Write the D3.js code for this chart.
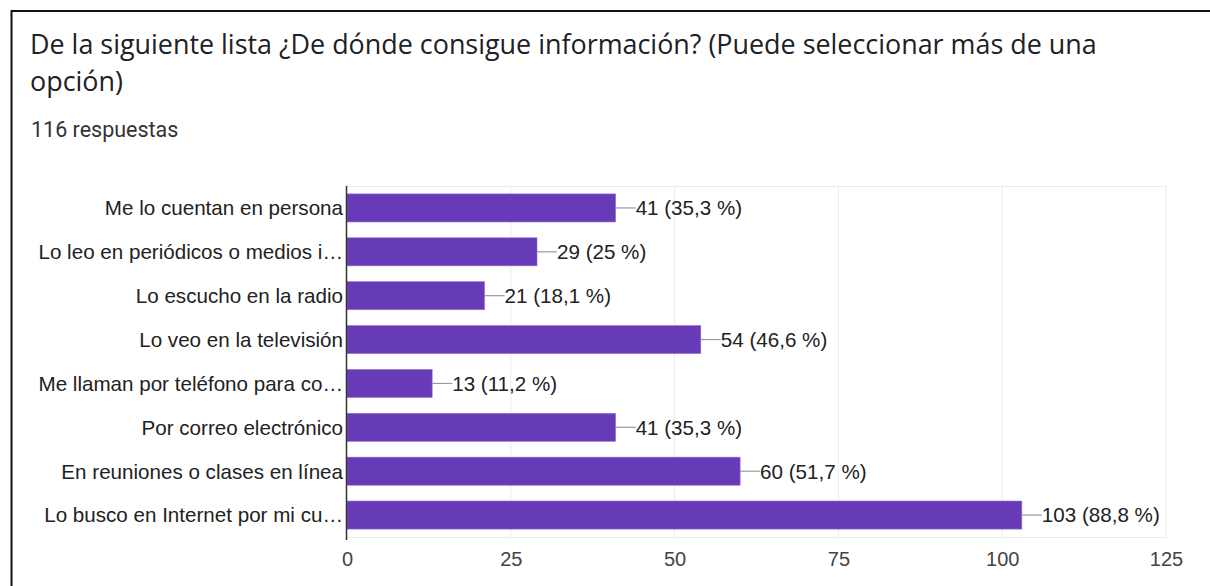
<!DOCTYPE html>
<html><head><meta charset="utf-8">
<script src="https://cdn.jsdelivr.net/npm/d3@7"></script>
<style>
html,body{margin:0;padding:0;background:#fff;}
svg{display:block;}
</style></head>
<body>
<svg id="chart" width="1210" height="586"></svg>
<script>
const categories = [
  "Me lo cuentan en persona",
  "Lo leo en periódicos o medios i…",
  "Lo escucho en la radio",
  "Lo veo en la televisión",
  "Me llaman por teléfono para co…",
  "Por correo electrónico",
  "En reuniones o clases en línea",
  "Lo busco en Internet por mi cu…"
];
const values = [41, 29, 21, 54, 13, 41, 60, 103];
const percents = ["35,3", "25", "18,1", "46,6", "11,2", "35,3", "51,7", "88,8"];
const xTicks = [0, 25, 50, 75, 100, 125];
const title1 = "De la siguiente lista ¿De dónde consigue información? (Puede seleccionar más de una";
const title2 = "opción)";
const subtitle = "116 respuestas";

const svg = d3.select("#chart");
// frame
svg.append("rect").attr("x", 11.5).attr("y", 11).attr("width", 1300).attr("height", 700)
  .attr("fill", "none").attr("stroke", "#111").attr("stroke-width", 2);

svg.append("text").attr("x", 30).attr("y", 54).attr("font-family", "Open Sans, sans-serif")
  .attr("font-size", 26.9).attr("fill", "#202124").text(title1);
svg.append("text").attr("x", 30).attr("y", 91).attr("font-family", "Open Sans, sans-serif")
  .attr("font-size", 26.9).attr("fill", "#202124").text(title2);
svg.append("text").attr("x", 31).attr("y", 137).attr("font-family", "Roboto, sans-serif")
  .attr("font-size", 21.5).attr("fill", "#333").text(subtitle);

const x = d3.scaleLinear().domain([0, 125]).range([347, 1166]);
const y = d3.scaleBand().domain(categories).range([186, 537]).paddingInner(0.36).paddingOuter(0.18);

const g = svg.append("g");
// gridlines
g.selectAll("line.grid").data(xTicks.slice(1)).join("line")
  .attr("x1", d => x(d)).attr("x2", d => x(d)).attr("y1", 186).attr("y2", 537)
  .attr("stroke", "#ebebeb").attr("stroke-width", 1);
g.append("line").attr("x1", 347).attr("x2", 1166).attr("y1", 186.5).attr("y2", 186.5)
  .attr("stroke", "#ebebeb");
g.append("line").attr("x1", 347).attr("x2", 1166).attr("y1", 537.5).attr("y2", 537.5)
  .attr("stroke", "#ebebeb");

// bars
g.selectAll("rect.bar").data(values).join("rect")
  .attr("x", x(0)).attr("y", (d, i) => y(categories[i]))
  .attr("width", d => x(d) - x(0)).attr("height", y.bandwidth())
  .attr("fill", "#673ab7").attr("stroke", "#9575cd").attr("stroke-width", 0.6);

// leader lines
g.selectAll("line.lead").data(values).join("line")
  .attr("x1", d => x(d)).attr("x2", d => x(d) + 20)
  .attr("y1", (d, i) => y(categories[i]) + y.bandwidth() / 2)
  .attr("y2", (d, i) => y(categories[i]) + y.bandwidth() / 2)
  .attr("stroke", "#999").attr("stroke-width", 1.2);

g.selectAll("text.val").data(values).join("text")
  .attr("x", d => x(d) + 20)
  .attr("y", (d, i) => y(categories[i]) + y.bandwidth() / 2)
  .attr("dy", "0.36em")
  .attr("font-family", "Liberation Sans, Arial, sans-serif").attr("font-size", 20.6)
  .attr("fill", "#222").text((d, i) => `${d} (${percents[i]} %)`);

// y labels
g.selectAll("text.cat").data(categories).join("text")
  .attr("x", 343).attr("y", d => y(d) + y.bandwidth() / 2).attr("dy", "0.36em")
  .attr("text-anchor", "end")
  .attr("font-family", "Liberation Sans, Arial, sans-serif").attr("font-size", 20.6)
  .attr("fill", "#222").text(d => d);

// axis line
g.append("line").attr("x1", 346.5).attr("x2", 346.5).attr("y1", 186).attr("y2", 540)
  .attr("stroke", "#333").attr("stroke-width", 1.5);

// x tick labels
const xAxis = d3.axisBottom(x).tickValues(xTicks).tickSize(0).tickPadding(0);
const ax = svg.append("g").attr("transform", "translate(0,552)").call(xAxis);
ax.select(".domain").remove();
ax.selectAll("text").attr("font-family", "Liberation Sans, Arial, sans-serif")
  .attr("font-size", 20).attr("fill", "#444").attr("dy", "0.71em");
</script>
</body></html>
